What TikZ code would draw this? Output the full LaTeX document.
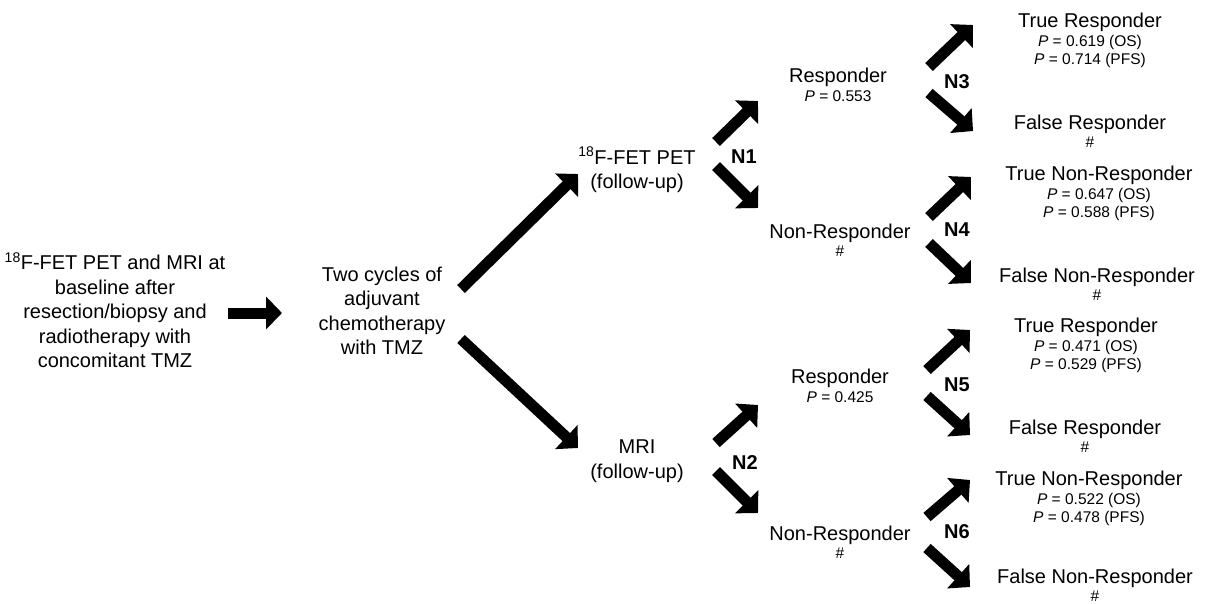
\documentclass[tikz,border=0pt]{standalone}
\usepackage{fontspec}
\setmainfont{Liberation Sans}
\usetikzlibrary{arrows.meta}
\newcommand{\bigtxt}{\fontsize{20}{24.5}\selectfont}
\newcommand{\smalltxt}{\fontsize{15.5}{17}\selectfont}
\begin{document}
\begin{tikzpicture}
[x=1pt,y=-1pt,
 ar/.style={line width=11pt,-{Triangle[length=16pt,width=32pt]}},
 tx/.style={align=center,font=\bigtxt,inner sep=0pt},
 lb/.style={font=\bigtxt\bfseries,inner sep=0pt}]
\useasboundingbox (0,0) rectangle (1205,603);

\node [tx] at (115,310) (base) {\textsuperscript{18}F-FET PET and MRI at\\baseline after\\resection/biopsy and\\radiotherapy with\\concomitant TMZ};
\node [tx] at (382,311) (chemo) {Two cycles of\\adjuvant\\chemotherapy\\with TMZ};
\node [tx] at (637,170) (pet) {\textsuperscript{18}F-FET PET\\(follow-up)};
\node [tx] at (637,461) (mri) {MRI\\(follow-up)};

\node [tx] at (838,85) (r1) {Responder\\[-6pt]{\smalltxt\textit{P} = 0.553}};
\node [tx] at (840,240) (nr1) {Non-Responder\\[-6pt]{\smalltxt\#}};
\node [tx] at (840,386) (r2) {Responder\\[-6pt]{\smalltxt\textit{P} = 0.425}};
\node [tx] at (840,542) (nr2) {Non-Responder\\[-6pt]{\smalltxt\#}};

\node [tx] at (1090,40) (tr1) {True Responder\\[-5pt]{\smalltxt\textit{P} = 0.619 (OS)}\\[-7pt]{\smalltxt\textit{P} = 0.714 (PFS)}};
\node [tx] at (1090,131) (fr1) {False Responder\\[-6pt]{\smalltxt\#}};
\node [tx] at (1099,193) (tn1) {True Non-Responder\\[-5pt]{\smalltxt\textit{P} = 0.647 (OS)}\\[-7pt]{\smalltxt\textit{P} = 0.588 (PFS)}};
\node [tx] at (1097,284) (fn1) {False Non-Responder\\[-6pt]{\smalltxt\#}};
\node [tx] at (1086,345) (tr2) {True Responder\\[-5pt]{\smalltxt\textit{P} = 0.471 (OS)}\\[-7pt]{\smalltxt\textit{P} = 0.529 (PFS)}};
\node [tx] at (1085,436) (fr2) {False Responder\\[-6pt]{\smalltxt\#}};
\node [tx] at (1089,498) (tn2) {True Non-Responder\\[-5pt]{\smalltxt\textit{P} = 0.522 (OS)}\\[-7pt]{\smalltxt\textit{P} = 0.478 (PFS)}};
\node [tx] at (1095,585) (fn2) {False Non-Responder\\[-6pt]{\smalltxt\#}};

\node [lb] at (744,157) (n1) {N1};
\node [lb] at (745,463) (n2) {N2};
\node [lb] at (957,82) (n3) {N3};
\node [lb] at (957,230) (n4) {N4};
\node [lb] at (957,385) (n5) {N5};
\node [lb] at (957,532) (n6) {N6};

\coordinate (a0s) at (228,313);
\coordinate (a0e) at (282,313);
\coordinate (aus) at (461,289);
\coordinate (aue) at (578,174);
\coordinate (ads) at (461,339);
\coordinate (ade) at (578,448);
\coordinate (n1us) at (716,142);
\coordinate (n1ue) at (758,101);
\coordinate (n1ds) at (716,166);
\coordinate (n1de) at (758,208);
\coordinate (n2us) at (716,443);
\coordinate (n2ue) at (758,405);
\coordinate (n2ds) at (716,471);
\coordinate (n2de) at (758,513);
\coordinate (n3us) at (929,67);
\coordinate (n3ue) at (973,25);
\coordinate (n3ds) at (929,93);
\coordinate (n3de) at (973,131);
\coordinate (n4us) at (929,217);
\coordinate (n4ue) at (971,177);
\coordinate (n4ds) at (929,243);
\coordinate (n4de) at (971,283);
\coordinate (n5us) at (927,370);
\coordinate (n5ue) at (970,330);
\coordinate (n5ds) at (927,396);
\coordinate (n5de) at (970,435);
\coordinate (n6us) at (927,517);
\coordinate (n6ue) at (970,480);
\coordinate (n6ds) at (927,548);
\coordinate (n6de) at (970,587);

\draw [ar] (a0s) -- (a0e);
\draw [ar] (aus) -- (aue);
\draw [ar] (ads) -- (ade);
\draw [ar] (n1us) -- (n1ue);
\draw [ar] (n1ds) -- (n1de);
\draw [ar] (n2us) -- (n2ue);
\draw [ar] (n2ds) -- (n2de);
\draw [ar] (n3us) -- (n3ue);
\draw [ar] (n3ds) -- (n3de);
\draw [ar] (n4us) -- (n4ue);
\draw [ar] (n4ds) -- (n4de);
\draw [ar] (n5us) -- (n5ue);
\draw [ar] (n5ds) -- (n5de);
\draw [ar] (n6us) -- (n6ue);
\draw [ar] (n6ds) -- (n6de);
\end{tikzpicture}
\end{document}
